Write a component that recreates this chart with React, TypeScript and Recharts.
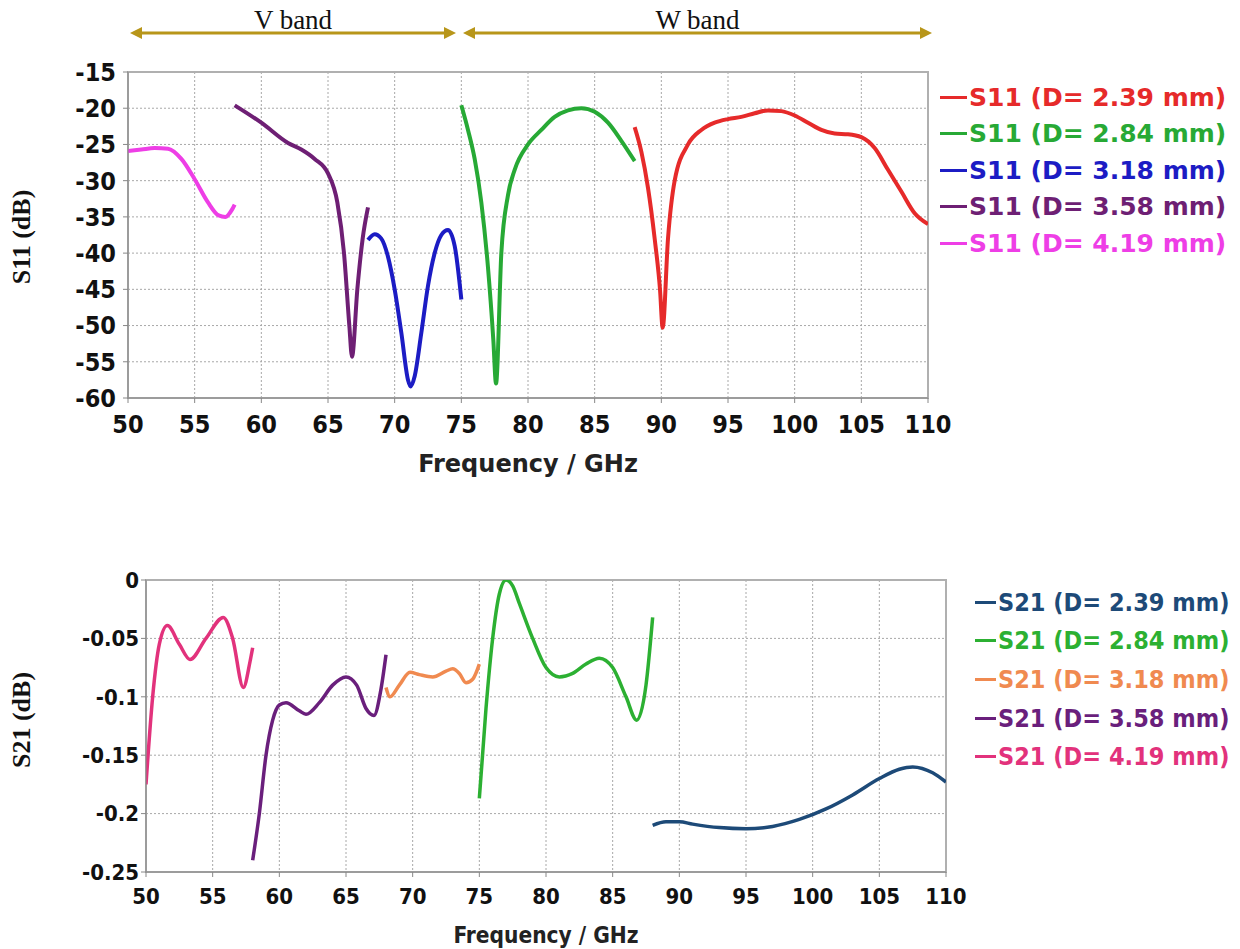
import React from "react";
import { LineChart, Line, XAxis, YAxis, CartesianGrid, ReferenceArea } from "recharts";

// ---------- tick labels ----------
const freqTicks = [50, 55, 60, 65, 70, 75, 80, 85, 90, 95, 100, 105, 110];
const s11Ticks = [-15, -20, -25, -30, -35, -40, -45, -50, -55, -60];
const s21Ticks = [0, -0.05, -0.1, -0.15, -0.2, -0.25];

// ---------- S11 series (f in GHz, v in dB) ----------
const s11D239 = [
  { f: 88, v: -22.6 }, { f: 88.5, v: -26 }, { f: 89, v: -31 }, { f: 89.5, v: -38 },
  { f: 89.9, v: -45 }, { f: 90.1, v: -50.3 }, { f: 90.5, v: -38 }, { f: 91, v: -30 },
  { f: 92, v: -25 }, { f: 93, v: -23 }, { f: 94, v: -22 }, { f: 95, v: -21.5 },
  { f: 96, v: -21.2 }, { f: 97, v: -20.7 }, { f: 98, v: -20.3 }, { f: 99, v: -20.4 },
  { f: 100, v: -21 }, { f: 101, v: -22 }, { f: 102, v: -23 }, { f: 103, v: -23.5 },
  { f: 104, v: -23.6 }, { f: 105, v: -24 }, { f: 106, v: -25.5 }, { f: 107, v: -28.5 },
  { f: 108, v: -31.5 }, { f: 109, v: -34.5 }, { f: 110, v: -36 },
];
const s11D284 = [
  { f: 75, v: -19.6 }, { f: 75.5, v: -23 }, { f: 76, v: -27 }, { f: 76.5, v: -33 },
  { f: 77, v: -42 }, { f: 77.4, v: -52 }, { f: 77.6, v: -58 }, { f: 78, v: -40 },
  { f: 78.5, v: -32 }, { f: 79, v: -28.5 }, { f: 80, v: -25 }, { f: 81, v: -23 },
  { f: 82, v: -21.2 }, { f: 83, v: -20.3 }, { f: 84, v: -20 }, { f: 85, v: -20.5 },
  { f: 86, v: -22 }, { f: 87, v: -24.5 }, { f: 88, v: -27.3 },
];
const s11D318 = [
  { f: 68, v: -38.2 }, { f: 68.5, v: -37.4 }, { f: 69, v: -38 }, { f: 69.5, v: -40.5 },
  { f: 70, v: -45 }, { f: 70.5, v: -51 }, { f: 71, v: -57.5 }, { f: 71.2, v: -58.4 },
  { f: 71.5, v: -57 }, { f: 72, v: -51 }, { f: 72.5, v: -44.5 }, { f: 73, v: -40 },
  { f: 73.5, v: -37.5 }, { f: 74, v: -36.8 }, { f: 74.5, v: -39 }, { f: 75, v: -46.4 },
];
const s11D358 = [
  { f: 58, v: -19.6 }, { f: 60, v: -22 }, { f: 62, v: -24.8 }, { f: 63, v: -25.7 },
  { f: 64, v: -27 }, { f: 65, v: -29 }, { f: 65.7, v: -33 }, { f: 66.2, v: -40 },
  { f: 66.6, v: -50 }, { f: 66.8, v: -54.3 }, { f: 67.2, v: -45 }, { f: 67.6, v: -38 },
  { f: 68, v: -33.7 },
];
const s11D419 = [
  { f: 50, v: -25.9 }, { f: 51, v: -25.7 }, { f: 52, v: -25.5 }, { f: 53, v: -25.6 },
  { f: 54, v: -27 }, { f: 55, v: -29.8 }, { f: 56, v: -33 }, { f: 56.8, v: -34.8 },
  { f: 57.3, v: -35 }, { f: 57.8, v: -34 }, { f: 58, v: -33.3 },
];

// ---------- S21 series ----------
const s21D239 = [
  { f: 88, v: -0.21 }, { f: 89, v: -0.207 }, { f: 90, v: -0.207 }, { f: 91, v: -0.209 },
  { f: 93, v: -0.212 }, { f: 95, v: -0.213 }, { f: 97, v: -0.211 }, { f: 99, v: -0.205 },
  { f: 101, v: -0.196 }, { f: 103, v: -0.184 }, { f: 105, v: -0.17 }, { f: 106.5, v: -0.162 },
  { f: 107.5, v: -0.16 }, { f: 109, v: -0.165 }, { f: 110, v: -0.173 },
];
const s21D284 = [
  { f: 75, v: -0.187 }, { f: 75.5, v: -0.11 }, { f: 76, v: -0.05 }, { f: 76.5, v: -0.012 },
  { f: 77, v: 0 }, { f: 77.5, v: -0.005 }, { f: 78, v: -0.02 }, { f: 79, v: -0.05 },
  { f: 80, v: -0.075 }, { f: 81, v: -0.083 }, { f: 82, v: -0.08 }, { f: 83, v: -0.072 },
  { f: 84, v: -0.067 }, { f: 85, v: -0.075 }, { f: 86, v: -0.1 }, { f: 86.8, v: -0.12 },
  { f: 87.5, v: -0.09 }, { f: 88, v: -0.032 },
];
const s21D318 = [
  { f: 68, v: -0.092 }, { f: 68.3, v: -0.1 }, { f: 69, v: -0.09 }, { f: 69.8, v: -0.079 },
  { f: 70.5, v: -0.081 }, { f: 71.5, v: -0.083 }, { f: 72.5, v: -0.078 }, { f: 73, v: -0.076 },
  { f: 73.5, v: -0.08 }, { f: 74, v: -0.088 }, { f: 74.5, v: -0.085 }, { f: 75, v: -0.072 },
];
const s21D358 = [
  { f: 58, v: -0.24 }, { f: 58.5, v: -0.2 }, { f: 59, v: -0.15 }, { f: 59.5, v: -0.12 },
  { f: 60, v: -0.107 }, { f: 60.5, v: -0.105 }, { f: 61.5, v: -0.112 }, { f: 62, v: -0.115 },
  { f: 63, v: -0.105 }, { f: 64, v: -0.09 }, { f: 65, v: -0.083 }, { f: 65.8, v: -0.09 },
  { f: 66.5, v: -0.11 }, { f: 67.1, v: -0.116 }, { f: 67.6, v: -0.095 }, { f: 68, v: -0.064 },
];
const s21D419 = [
  { f: 50, v: -0.175 }, { f: 50.5, v: -0.1 }, { f: 51, v: -0.055 }, { f: 51.6, v: -0.039 },
  { f: 52.5, v: -0.055 }, { f: 53.3, v: -0.068 }, { f: 54.5, v: -0.05 }, { f: 55.8, v: -0.032 },
  { f: 56.5, v: -0.05 }, { f: 57.3, v: -0.092 }, { f: 57.8, v: -0.07 }, { f: 58, v: -0.058 },
];

const s11Labels = ["S11 (D= 2.39 mm)", "S11 (D= 2.84 mm)", "S11 (D= 3.18 mm)", "S11 (D= 3.58 mm)", "S11 (D= 4.19 mm)"];
const s21Labels = ["S21 (D= 2.39 mm)", "S21 (D= 2.84 mm)", "S21 (D= 3.18 mm)", "S21 (D= 3.58 mm)", "S21 (D= 4.19 mm)"];
const s11Colors = ["#e62a2a", "#27a935", "#1c1cc4", "#6e1f74", "#ee3ee6"];
const s21Colors = ["#1d4a78", "#2cb032", "#f08a50", "#6a1f7c", "#e2327c"];
const s11Data = [s11D239, s11D284, s11D318, s11D358, s11D419];
const s21Data = [s21D239, s21D284, s21D318, s21D358, s21D419];

const GOLD = "#b8961a";

function Legend({ labels, colors, left, top, gap, font, size, dash }: any) {
  return (
    <div style={{ position: "absolute", left, top }}>
      {labels.map((l: string, i: number) => (
        <div key={l} style={{ position: "absolute", top: i * gap, left: 0, whiteSpace: "nowrap", display: "flex", alignItems: "center", height: 0 }}>
          <div style={{ width: dash, height: 3, background: colors[i], marginRight: 2 }} />
          <span style={{ color: colors[i], fontFamily: font, fontWeight: "bold", fontSize: size, lineHeight: 1 }}>{l}</span>
        </div>
      ))}
    </div>
  );
}

function BandArrow({ x1, x2, y, label }: any) {
  const h = 6;
  const w = 12;
  return (
    <g>
      <line x1={x1 + w} y1={y} x2={x2 - w} y2={y} stroke={GOLD} strokeWidth={3} />
      <polygon points={`${x1},${y} ${x1 + w},${y - h} ${x1 + w},${y + h}`} fill={GOLD} />
      <polygon points={`${x2},${y} ${x2 - w},${y - h} ${x2 - w},${y + h}`} fill={GOLD} />
      <text x={(x1 + x2) / 2} y={y - 4} textAnchor="middle" fontFamily="Liberation Serif" fontSize={27} fill="#111">{label}</text>
    </g>
  );
}

export default function App() {
  const topTick = { fontFamily: "DejaVu Sans Condensed", fontWeight: "bold", fontSize: 25, fill: "#111" };
  const botTick = { fontFamily: "DejaVu Sans Condensed", fontWeight: "bold", fontSize: 22, fill: "#111" };
  return (
    <div style={{ position: "absolute", left: 0, top: 0, width: 1240, height: 949, background: "#fff", overflow: "hidden" }}>
      <svg width={1240} height={60} style={{ position: "absolute", left: 0, top: 0 }}>
        <BandArrow x1={130} x2={456} y={33} label="V band" />
        <BandArrow x1={463} x2={932} y={33} label="W band" />
      </svg>

      {/* Top chart: S11 */}
      <div style={{ position: "absolute", left: 0, top: 0 }}>
        <LineChart width={1240} height={480} margin={{ top: 72, left: 68, right: 312, bottom: 52 }}>
          <CartesianGrid strokeDasharray="2 2" stroke="#a8a8a8" />
          <ReferenceArea x1={50} x2={110} y1={-60} y2={-15} fill="none" stroke="#b0b0b0" strokeWidth={2} />
          <XAxis type="number" dataKey="f" domain={[50, 110]} ticks={freqTicks} allowDataOverflow
            tick={topTick} stroke="#888" tickSize={5} tickMargin={12} height={30} />
          <YAxis type="number" dataKey="v" domain={[-60, -15]} ticks={s11Ticks} allowDataOverflow
            tick={topTick} stroke="#888" tickSize={5} tickMargin={7} width={60} />
          {s11Data.map((d, i) => (
            <Line key={s11Labels[i]} data={d} dataKey="v" type="monotone" stroke={s11Colors[i]} strokeWidth={4}
              dot={false} isAnimationActive={false} />
          ))}
        </LineChart>
      </div>

      {/* Bottom chart: S21 */}
      <div style={{ position: "absolute", left: 0, top: 480 }}>
        <LineChart width={1240} height={469} margin={{ top: 100, left: 86, right: 294, bottom: 47 }}>
          <CartesianGrid strokeDasharray="2 2" stroke="#a8a8a8" />
          <ReferenceArea x1={50} x2={110} y1={-0.25} y2={0} fill="none" stroke="#b0b0b0" strokeWidth={2} />
          <XAxis type="number" dataKey="f" domain={[50, 110]} ticks={freqTicks} allowDataOverflow
            tick={botTick} stroke="#888" tickSize={5} tickMargin={11} height={30} />
          <YAxis type="number" dataKey="v" domain={[-0.25, 0]} ticks={s21Ticks} allowDataOverflow
            tick={botTick} stroke="#888" tickSize={5} tickMargin={2} width={60} />
          {s21Data.map((d, i) => (
            <Line key={s21Labels[i]} data={d} dataKey="v" type="monotone" stroke={s21Colors[i]} strokeWidth={3.5}
              dot={false} isAnimationActive={false} />
          ))}
        </LineChart>
      </div>

      <Legend labels={s11Labels} colors={s11Colors} left={940} top={97} gap={36.5} font="DejaVu Sans" size={25} dash={27} />
      <Legend labels={s21Labels} colors={s21Colors} left={975} top={602} gap={38.7} font="DejaVu Sans Condensed" size={25} dash={21} />

      <div style={{ position: "absolute", left: 528, top: 464, transform: "translate(-50%,-50%)", fontFamily: "DejaVu Sans", fontWeight: "bold", fontSize: 24, whiteSpace: "nowrap", color: "#222" }}>Frequency / GHz</div>
      <div style={{ position: "absolute", left: 546, top: 935, transform: "translate(-50%,-50%)", fontFamily: "DejaVu Sans Condensed", fontWeight: "bold", fontSize: 22.5, whiteSpace: "nowrap", color: "#222" }}>Frequency / GHz</div>

      <div style={{ position: "absolute", left: 22, top: 237, transform: "translate(-50%,-50%) rotate(-90deg)", fontFamily: "Liberation Serif", fontWeight: "bold", fontSize: 26, whiteSpace: "nowrap", color: "#111" }}>S11 (dB)</div>
      <div style={{ position: "absolute", left: 22, top: 720, transform: "translate(-50%,-50%) rotate(-90deg)", fontFamily: "Liberation Serif", fontWeight: "bold", fontSize: 26, whiteSpace: "nowrap", color: "#111" }}>S21 (dB)</div>
    </div>
  );
}
